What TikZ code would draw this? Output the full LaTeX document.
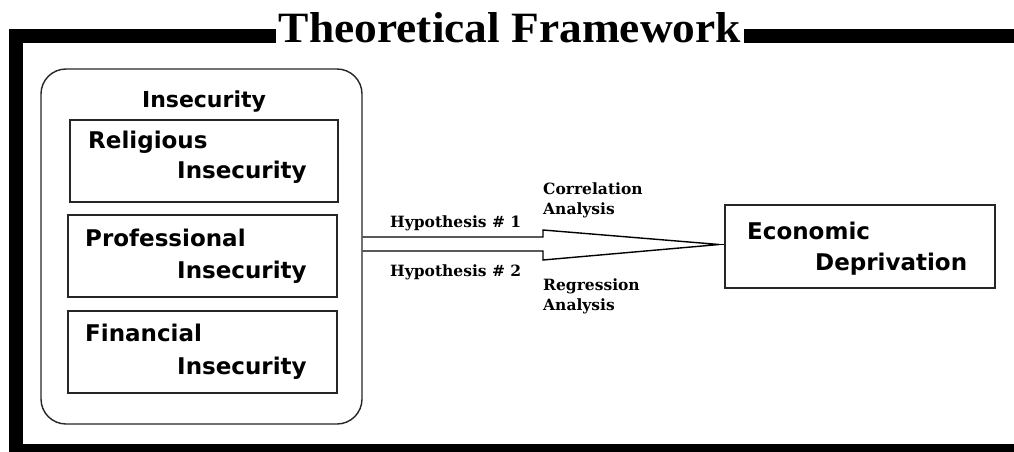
\documentclass[tikz,border=0pt]{standalone}
\usepackage{fontspec}
\setmainfont{DejaVu Serif}
\newfontfamily\boxfont{DejaVu Sans}
\newfontfamily\titlefont{Liberation Serif}
\usetikzlibrary{calc}
\begin{document}
\begin{tikzpicture}[x=1pt,y=-1pt,
  frame/.style={line width=14pt,draw=black},
  box/.style={draw=black!85,line width=1.4pt,inner sep=0pt},
  lbl/.style={font=\boxfont\bfseries\fontsize{23}{25}\selectfont,inner sep=0pt,anchor=base west},
  hyp/.style={font=\bfseries\fontsize{15.5}{17}\selectfont,inner sep=0pt,anchor=base west},
  arr/.style={draw=black,line width=1.4pt,line join=miter}]
\useasboundingbox (0,0) rectangle (1014,452);
\begin{scope}
\clip (0,0) rectangle (1014,452);
\draw[frame] (16,36.5) rectangle (1022,451);
\end{scope}
\node[fill=white,inner xsep=3pt,inner ysep=2pt,anchor=base] (title) at (510,43)
  {\titlefont\bfseries\resizebox{462pt}{30pt}{Theoretical Framework}};
% left group
\node[box,rounded corners=25pt,minimum width=321pt,minimum height=355pt] (ins) at (201.5,246.5) {};
\node[font=\boxfont\bfseries\fontsize{22}{24}\selectfont,inner sep=0pt,anchor=base] (inshead) at (204,107) {Insecurity};
\node[box,minimum width=268pt,minimum height=82pt] (b1) at (204,161) {};
\node[box,minimum width=269pt,minimum height=82pt] (b2) at (202.5,256) {};
\node[box,minimum width=269pt,minimum height=82pt] (b3) at (202.5,352) {};
\node[lbl] (b1a) at (88,148) {Religious};
\node[lbl] (b1b) at (177,178) {Insecurity};
\node[lbl] (b2a) at (85,246) {Professional};
\node[lbl] (b2b) at (177,278) {Insecurity};
\node[lbl] (b3a) at (85,341) {Financial};
\node[lbl] (b3b) at (177,374) {Insecurity};
% right box
\node[box,minimum width=270pt,minimum height=83pt] (eco) at (860,246.5) {};
\node[lbl] (ecoa) at (747,239) {Economic};
\node[lbl] (ecob) at (815,270) {Deprivation};
% arrow
\coordinate (s1) at ($(ins.east)+(0,-9.5)$);
\coordinate (s2) at ($(ins.east)+(0,4.5)$);
\coordinate (tip) at ($(eco.west)+(-5,-2)$);
\draw[arr] (s1) -- (543,237) -- (543,230) -- (tip) -- (543,260) -- (543,251) -- (s2);
\draw[arr] (tip) -- (eco.west |- tip);
% labels
\node[hyp] (h1) at (390,227) {Hypothesis \# 1};
\node[hyp] (h2) at (390,276) {Hypothesis \# 2};
\node[hyp] (c1) at (543,194) {Correlation};
\node[hyp] (c2) at (543,214) {Analysis};
\node[hyp] (r1) at (543,290) {Regression};
\node[hyp] (r2) at (543,310) {Analysis};
\end{tikzpicture}
\end{document}
